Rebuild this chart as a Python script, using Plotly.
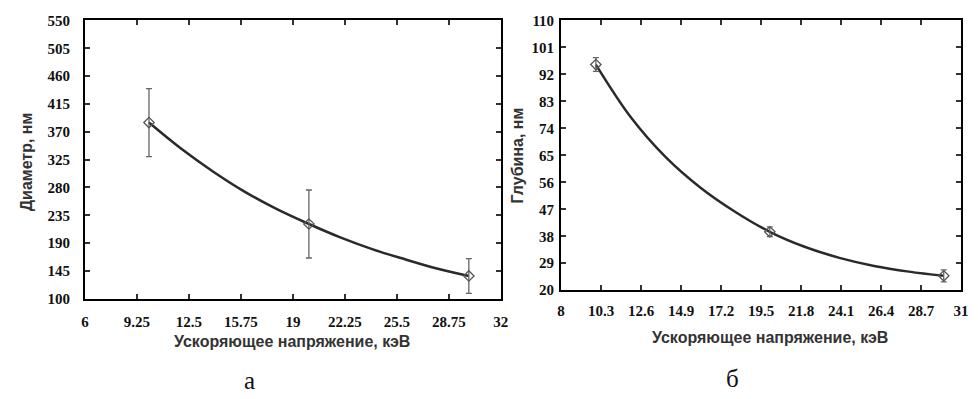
import plotly.graph_objects as go

# Panel a: diameter vs accelerating voltage (measured points)
volt_a = [10, 20, 30]
diam = [385, 221, 137]
diam_err = [55, 55, 28]
# fitted curve of panel a
fit_x_a = [10, 12, 14, 16, 18, 20, 22, 24, 26, 28, 30]
fit_y_a = [385, 343, 306, 273, 245, 221, 199, 180, 164, 149, 137]

# Panel b: depth vs accelerating voltage (measured points)
volt_b = [10, 20, 30]
depth = [95.3, 39.5, 24.8]
depth_err = [2.3, 1.6, 2.0]
# fitted curve of panel b
fit_x_b = [10, 12, 14, 16, 18, 20, 22, 24, 26, 28, 30]
fit_y_b = [95.3, 77.8, 64.5, 54.3, 46.2, 39.5, 34.5, 30.8, 28.1, 26.2, 24.8]

xticks_a = [6, 9.25, 12.5, 15.75, 19, 22.25, 25.5, 28.75, 32]
xtext_a = ["6", "9.25", "12.5", "15.75", "19", "22.25", "25.5", "28.75", "32"]
yticks_a = [100, 145, 190, 235, 280, 325, 370, 415, 460, 505, 550]
xticks_b = [8, 10.3, 12.6, 14.9, 17.2, 19.5, 21.8, 24.1, 26.4, 28.7, 31]
xtext_b = ["8", "10.3", "12.6", "14.9", "17.2", "19.5", "21.8", "24.1", "26.4", "28.7", "31"]
yticks_b = [20, 29, 38, 47, 56, 65, 74, 83, 92, 101, 110]

W, H = 978, 399
fig = go.Figure()

line_style = dict(color="#2a2a2a", width=2.5, shape="spline", smoothing=1.0)
marker_style = dict(symbol="diamond-open", size=8, color="#555555", line=dict(width=1.3, color="#555555"))

fig.add_trace(go.Scatter(x=fit_x_a, y=fit_y_a, mode="lines", line=line_style,
                         xaxis="x", yaxis="y", showlegend=False, hoverinfo="skip"))
fig.add_trace(go.Scatter(x=volt_a, y=diam, mode="markers", marker=marker_style,
                         error_y=dict(type="data", array=diam_err, color="#666666", thickness=1.3, width=3),
                         xaxis="x", yaxis="y", showlegend=False))
fig.add_trace(go.Scatter(x=fit_x_b, y=fit_y_b, mode="lines", line=line_style,
                         xaxis="x2", yaxis="y2", showlegend=False, hoverinfo="skip"))
fig.add_trace(go.Scatter(x=volt_b, y=depth, mode="markers", marker=marker_style,
                         error_y=dict(type="data", array=depth_err, color="#666666", thickness=1.3, width=3),
                         xaxis="x2", yaxis="y2", showlegend=False))

def bold(labels):
    return ["<b>%s</b>" % s for s in labels]

tickfont = dict(family="Liberation Serif", size=15, color="#111111")

fig.update_layout(
    width=W, height=H, margin=dict(l=0, r=0, t=0, b=0),
    paper_bgcolor="white", plot_bgcolor="white",
    font=dict(family="Liberation Serif", size=15, color="#111111"),
)

axis_style = dict(showline=True, linewidth=2, linecolor="black", mirror="allticks",
                  ticks="inside", ticklen=5, tickwidth=1.5, tickcolor="#333333",
                  showgrid=False, zeroline=False, tickfont=tickfont)

fig.update_layout(
    xaxis=dict(domain=[82 / W, 503 / W], range=[6, 32], tickmode="array", tickvals=xticks_a,
               ticktext=bold(xtext_a), anchor="y", ticklabelstandoff=8),
    yaxis=dict(domain=[(H - 303) / H, (H - 13) / H], range=[100, 550], tickmode="array", tickvals=yticks_a,
               ticktext=bold([str(v) for v in yticks_a]), anchor="x", ticklabelstandoff=10),
    xaxis2=dict(domain=[564 / W, 969 / W], range=[8, 31], tickmode="array", tickvals=xticks_b,
                ticktext=bold(xtext_b), anchor="y2", ticklabelstandoff=6),
    yaxis2=dict(domain=[(H - 294) / H, (H - 13) / H], range=[20, 110], tickmode="array", tickvals=yticks_b,
                ticktext=bold([str(v) for v in yticks_b]), anchor="x2", ticklabelstandoff=2),
)
fig.update_xaxes(**axis_style)
fig.update_yaxes(**axis_style)

title_font = dict(family="Liberation Sans", size=16, color="#333333", weight="bold")
cap_font = dict(family="Liberation Serif", size=25, color="#111111")

def ann(text, x, y, font, angle=0):
    fig.add_annotation(text=text, x=x / W, y=1 - y / H, xref="paper", yref="paper",
                       showarrow=False, font=font, textangle=angle,
                       xanchor="center", yanchor="middle")

ann("Ускоряющее напряжение, кэВ", 292, 347, title_font)
ann("Ускоряющее напряжение, кэВ", 776, 343, title_font)
ann("Диаметр, нм", 23, 160, title_font, -90)
ann("Глубина, нм", 520, 154, title_font, -90)
ann("а", 249, 388, cap_font)
ann("б", 738, 386, cap_font)

fig.write_html("out.html")
